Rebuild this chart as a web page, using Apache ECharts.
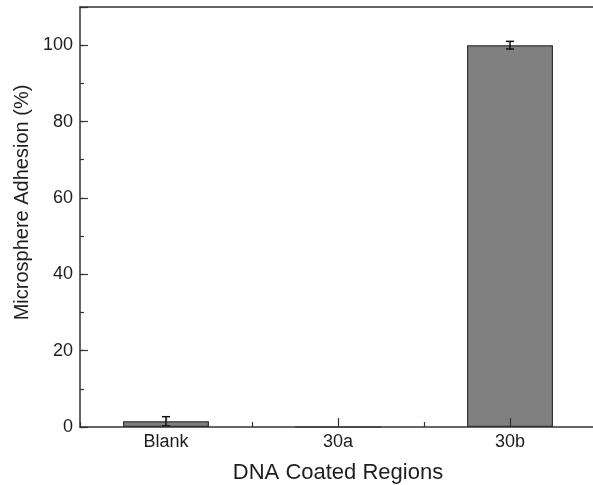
<!DOCTYPE html>
<html>
<head>
<meta charset="utf-8">
<script src="https://cdn.jsdelivr.net/npm/echarts@6/dist/echarts.min.js"></script>
<style>html,body{margin:0;padding:0;background:#fff}#c{width:593px;height:485px}</style>
</head>
<body>
<div id="c"></div>
<script>
const categories = ['Blank', '30a', '30b'];
const values = [1.5, 0, 100];
const errors = [1.2, 0, 1.0];
const yTicks = [0, 20, 40, 60, 80, 100];

const chart = echarts.init(document.getElementById('c'), null, {renderer: 'canvas'});
const font = 'Liberation Sans, Arial, sans-serif';
const axisColor = '#333';
const textColor = '#1e1e1e';

const option = {
  animation: false,
  grid: {left: 80, top: 7, right: -3, bottom: 58, outerBoundsMode: 'none', containLabel: false},
  xAxis: [
    {
      type: 'category', data: categories, boundaryGap: true, position: 'bottom', z: 5,
      name: 'DNA Coated Regions', nameLocation: 'middle', nameGap: 35,
      nameTextStyle: {fontFamily: font, fontSize: 22, color: textColor},
      axisLine: {show: true, lineStyle: {color: axisColor, width: 1.5}},
      axisTick: {show: true, inside: true, length: 5, lineStyle: {color: axisColor, width: 1.2}},
      axisLabel: {fontFamily: font, fontSize: 18, color: textColor, margin: 6},
      splitLine: {show: false}
    },
    {
      type: 'category', data: categories, boundaryGap: true, position: 'bottom', z: 5,
      axisLine: {show: false},
      axisTick: {show: true, inside: true, alignWithLabel: true, length: 9, lineStyle: {color: axisColor, width: 1.2}},
      axisLabel: {show: false},
      splitLine: {show: false}
    },
    {
      type: 'category', data: categories, boundaryGap: true, position: 'top',
      axisLine: {show: true, lineStyle: {color: axisColor, width: 1.5}},
      axisTick: {show: false},
      axisLabel: {show: false},
      splitLine: {show: false}
    }
  ],
  yAxis: [
    {
      type: 'value', min: 0, max: 110, interval: 20, position: 'left', z: 5,
      name: 'Microsphere Adhesion (%)', nameLocation: 'middle', nameGap: 45,
      nameTextStyle: {fontFamily: font, fontSize: 20, color: textColor, padding: [0, 0, 0, 29]},
      axisLine: {show: true, lineStyle: {color: axisColor, width: 1.5}},
      axisTick: {show: true, inside: true, length: 8, lineStyle: {color: axisColor, width: 1.2}},
      axisLabel: {fontFamily: font, fontSize: 18, color: textColor, margin: 7,
        formatter: v => (yTicks.indexOf(v) >= 0 ? String(v) : '')},
      splitLine: {show: false}
    },
    {
      type: 'value', min: 0, max: 110, interval: 10, position: 'left', offset: 0, z: 5,
      axisLine: {show: false},
      axisTick: {show: true, inside: true, length: 4, lineStyle: {color: axisColor, width: 1.2}},
      axisLabel: {show: false},
      splitLine: {show: false}
    }
  ],
  series: [
    {
      type: 'bar', data: values, barWidth: '50%', z: 2,
      itemStyle: {color: '#808080', borderColor: '#333', borderWidth: 1.2}
    },
    {
      type: 'custom',
      data: categories.map((c, i) => [i, values[i], errors[i]]),
      renderItem: function (params, api) {
        const i = api.value(0), v = api.value(1), e = api.value(2);
        if (!e) return null;
        const top = api.coord([i, v + e]);
        const bot = api.coord([i, v - e]);
        const hw = 4;
        const style = {stroke: '#111', lineWidth: 1.5};
        return {type: 'group', children: [
          {type: 'line', shape: {x1: top[0], y1: top[1], x2: bot[0], y2: bot[1]}, style},
          {type: 'line', shape: {x1: top[0]-hw, y1: top[1], x2: top[0]+hw, y2: top[1]}, style},
          {type: 'line', shape: {x1: bot[0]-hw, y1: bot[1], x2: bot[0]+hw, y2: bot[1]}, style}
        ]};
      },
      z: 3
    }
  ]
};
chart.setOption(option);
</script>
</body>
</html>
